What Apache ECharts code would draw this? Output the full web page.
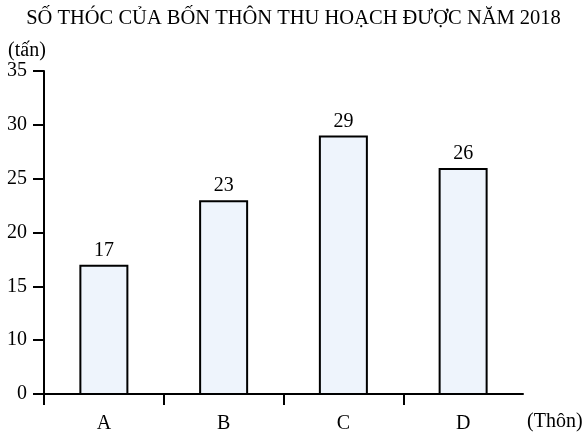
<!DOCTYPE html>
<html>
<head>
<meta charset="utf-8">
<script src="https://cdn.jsdelivr.net/npm/echarts@6/dist/echarts.min.js"></script>
<style>
html,body{margin:0;padding:0;background:#fff;}
#chart{width:587px;height:433px;}
</style>
</head>
<body>
<div id="chart"></div>
<script>
const titleText = 'SỐ THÓC CỦA BỐN THÔN THU HOẠCH ĐƯỢC NĂM 2018';
const categories = ['A', 'B', 'C', 'D'];
const values = [17, 23, 29, 26];
// the axis is broken: the bottom tick reads 0 but sits one step under 10
const yTickValues = [5, 10, 15, 20, 25, 30, 35];
const yTickLabels = ['0', '10', '15', '20', '25', '30', '35'];
const xTickPositions = [0, 1, 2, 3]; // category boundaries that carry a tick
const yName = '(tấn)';
const xName = '(Thôn)';

const FONT = '"Liberation Serif", "Times New Roman", serif';
const FS = 20;
const chart = echarts.init(document.getElementById('chart'));
chart.setOption({
  backgroundColor: '#ffffff',
  animation: false,
  textStyle: { fontFamily: FONT, color: '#000' },
  title: {
    text: titleText,
    left: 'center',
    top: 3,
    textStyle: { fontFamily: FONT, fontSize: 20.5, fontWeight: 'normal', color: '#000' }
  },
  grid: { left: 44, right: 64, top: 71, bottom: 39, containLabel: false, outerBoundsMode: 'none' },
  xAxis: [{
    type: 'category',
    data: categories,
    boundaryGap: true,
    position: 'bottom',
    name: xName,
    nameLocation: 'end',
    nameGap: 4,
    nameTextStyle: { fontFamily: FONT, fontSize: FS, color: '#000', verticalAlign: 'top', lineHeight: 56 },
    axisLine: { show: false },
    axisTick: { show: false },
    axisLabel: { margin: 20, fontFamily: FONT, fontSize: FS, color: '#000' },
    splitLine: { show: false }
  }, {
    type: 'value',
    position: 'bottom',
    min: 0,
    max: categories.length,
    axisLine: { show: true, onZero: false, lineStyle: { color: '#000', width: 2 } },
    axisTick: { show: true, length: 11, customValues: xTickPositions, lineStyle: { color: '#000', width: 2 } },
    axisLabel: { show: false },
    splitLine: { show: false }
  }],
  yAxis: {
    type: 'value',
    min: 5,
    max: 35,
    interval: 5,
    name: yName,
    nameLocation: 'end',
    nameGap: 8,
    nameTextStyle: { fontFamily: FONT, fontSize: FS, color: '#000', padding: [0, 34, 0, 0] },
    axisLine: { show: true, lineStyle: { color: '#000', width: 2 } },
    axisTick: { show: true, length: 11, lineStyle: { color: '#000', width: 2 } },
    axisLabel: {
      margin: 17,
      fontFamily: FONT,
      fontSize: FS,
      color: '#000',
      formatter: function (v) {
        const i = yTickValues.indexOf(v);
        return i >= 0 ? yTickLabels[i] : '';
      }
    },
    splitLine: { show: false }
  },
  series: [{
    type: 'bar',
    xAxisIndex: 0,
    data: values,
    barWidth: 49,
    itemStyle: { color: '#eef4fc', borderColor: '#000', borderWidth: 2 },
    label: {
      show: true,
      position: 'top',
      distance: 4,
      fontFamily: FONT,
      fontSize: FS,
      color: '#000'
    }
  }]
});
</script>
</body>
</html>
